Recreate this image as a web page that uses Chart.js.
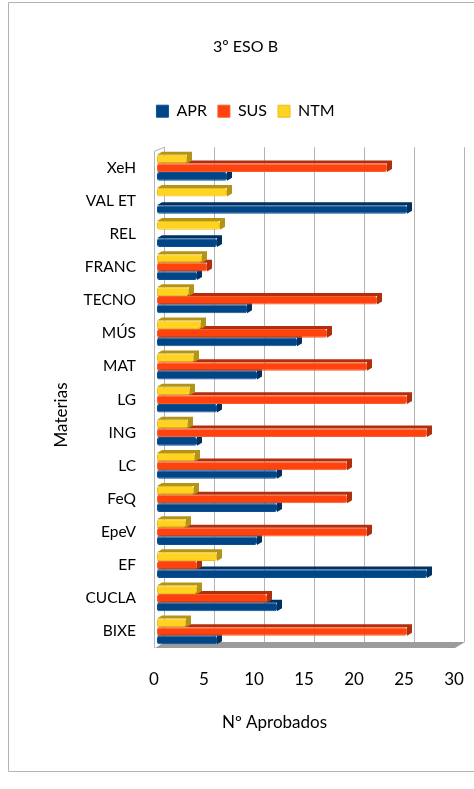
<!DOCTYPE html>
<html>
<head>
<meta charset="utf-8">
<title>3º ESO B</title>
<script src="https://cdn.jsdelivr.net/npm/chart.js@4"></script>
<style>
  html, body { margin: 0; padding: 0; background: #fff; }
  #wrap { width: 474px; height: 789px; position: relative; }
</style>
</head>
<body>
<div id="wrap"><canvas id="myChart" width="474" height="789"></canvas></div>
<script>
var materias = ['XeH', 'VAL ET', 'REL', 'FRANC', 'TECNO', 'MÚS', 'MAT', 'LG', 'ING', 'LC', 'FeQ', 'EpeV', 'EF', 'CUCLA', 'BIXE'];
var apr = [7, 25, 6, 4, 9, 14, 10, 6, 4, 12, 12, 10, 27, 12, 6];
var sus = [23, 0, 0, 5, 22, 17, 21, 25, 27, 19, 19, 21, 4, 11, 25];
var ntm = [3, 7, 6.3, 4.5, 3.2, 4.4, 3.7, 3.3, 3.1, 3.8, 3.7, 2.9, 6, 4, 2.9];
var xTicks = [0, 5, 10, 15, 20, 25, 30];
var fontName = 'Lato, Carlito, sans-serif';

// depth of the fake 3d, the way the spreadsheet drew it
var dx = 10, dy = 6;
var barDx = 5, barDy = 3;
var wallInset = 2;

var wall3d = {
    id: 'wall3d',
    beforeLayout: function (chart) {
        // some air between the legend and the plot
        var legend = chart.legend;
        if (legend.spaced) return;
        legend.spaced = true;
        var fit = legend.fit;
        legend.fit = function () {
            fit.call(this);
            this.height += 22;
        };
    },
    afterLayout: function (chart) {
        // the label overhang eats into the plot, so pin the value axis
        var x = chart.scales.x;
        x.left = 157;
        x.right = 457;
        x.width = 300;
        x.configure();
    },
    beforeDraw: function (chart) {
        var c = chart.ctx;
        c.save();
        c.fillStyle = '#fff';
        c.fillRect(0, 0, chart.width, chart.height);
        c.strokeStyle = '#b3b3b3';
        c.lineWidth = 1;
        c.beginPath();
        c.moveTo(chart.width, 2.5);
        c.lineTo(8.5, 2.5);
        c.lineTo(8.5, 771.5);
        c.lineTo(chart.width, 771.5);
        c.stroke();
        c.restore();
    },
    beforeDatasetsDraw: function (chart) {
        var c = chart.ctx, x = chart.scales.x, a = chart.chartArea;
        var x0 = x.getPixelForValue(0) - wallInset;
        var x1 = x.getPixelForValue(30) - wallInset;
        c.save();
        // floor
        c.fillStyle = '#9c9c9c';
        c.beginPath();
        c.moveTo(x0, a.bottom);
        c.lineTo(x1, a.bottom);
        c.lineTo(x1 + dx, a.bottom - dy);
        c.lineTo(x0 + dx, a.bottom - dy);
        c.closePath();
        c.fill();
        // back wall lines
        c.strokeStyle = '#b3b3b3';
        c.lineWidth = 1;
        xTicks.forEach(function (t) {
            var px = Math.round(x.getPixelForValue(t) - wallInset) - 0.5;
            c.beginPath();
            c.moveTo(px + dx, a.top - 4);
            c.lineTo(px + dx, a.bottom - dy);
            c.stroke();
        });
        // left wall
        c.beginPath();
        c.moveTo(x0 + dx - 0.5, a.top - 4);
        c.lineTo(x0 - 0.5, a.top);
        c.lineTo(x0 - 0.5, a.bottom);
        c.stroke();
        c.restore();
    },
    beforeDatasetDraw: function (chart, args) {
        var c = chart.ctx;
        var ds = chart.data.datasets[args.index];
        args.meta.data.forEach(function (bar, i) {
            if (!ds.data[i]) return;
            var top = bar.y - bar.height / 2;
            var bottom = bar.y + bar.height / 2;
            c.save();
            c.fillStyle = ds.sideColor;
            c.beginPath();
            c.moveTo(bar.base, top);
            c.lineTo(bar.base + barDx, top - barDy);
            c.lineTo(bar.x + barDx, top - barDy);
            c.lineTo(bar.x + barDx, bottom - barDy);
            c.lineTo(bar.x, bottom);
            c.lineTo(bar.x, top);
            c.closePath();
            c.fill();
            c.restore();
        });
    },
    afterDraw: function (chart) {
        var c = chart.ctx;
        c.save();
        c.fillStyle = '#000';
        c.font = '17px ' + fontName;
        c.textAlign = 'center';
        c.textBaseline = 'middle';
        c.fillText(chart.options.scales.x.title.text, 274.5, 723);
        c.translate(62, 415);
        c.rotate(-Math.PI / 2);
        c.fillText(chart.options.scales.y.title.text, 0, 0);
        c.restore();
    }
};

var ctx = document.getElementById('myChart').getContext('2d');

var myChart = new Chart(ctx, {
    type: 'bar',
    data: {
        labels: materias,
        datasets: [{
            label: 'APR',
            data: apr,
            order: 3,
            backgroundColor: '#004586',
            borderColor: '#0a5296',
            sideColor: '#003160',
            borderWidth: 1,
            borderRadius: 2,
            borderSkipped: false
        }, {
            label: 'SUS',
            data: sus,
            order: 2,
            backgroundColor: '#ff420e',
            borderColor: '#f0622f',
            sideColor: '#b32e0a',
            borderWidth: 1,
            borderRadius: 2,
            borderSkipped: false
        }, {
            label: 'NTM',
            data: ntm,
            order: 1,
            backgroundColor: '#ffd320',
            borderColor: '#e6c020',
            sideColor: '#b39416',
            borderWidth: 1,
            borderRadius: 2,
            borderSkipped: false
        }]
    },
    options: {
        indexAxis: 'y',
        responsive: false,
        animation: false,
        layout: { padding: { left: 27, right: 10, top: 0, bottom: 0 } },
        categoryPercentage: 0.78,
        barPercentage: 1,
        plugins: {
            title: {
                display: true,
                text: '3º ESO B',
                color: '#000',
                font: { family: fontName, size: 16, weight: 'normal' },
                padding: { top: 37, bottom: 36 }
            },
            legend: {
                position: 'top',
                labels: {
                    color: '#000',
                    font: { family: fontName, size: 16 },
                    boxWidth: 12,
                    boxHeight: 12,
                    padding: 11,
                    sort: function (a, b) { return a.datasetIndex - b.datasetIndex; }
                }
            },
            tooltip: { enabled: false }
        },
        scales: {
            x: {
                min: 0,
                max: 30,
                afterFit: function (s) { s.height = 141; },
                afterBuildTicks: function (s) { s.ticks = xTicks.map(function (v) { return { value: v }; }); },
                grid: { display: false },
                border: { display: false },
                title: { display: false, text: 'Nº Aprobados' },
                ticks: { color: '#000', font: { family: fontName, size: 17 }, padding: 13.5, maxRotation: 0, labelOffset: -3 }
            },
            y: {
                afterFit: function (s) { s.width = 130; },
                grid: { display: false },
                border: { display: false },
                title: { display: false, text: 'Materias' },
                ticks: { color: '#000', font: { family: fontName, size: 15.5 }, padding: 13, autoSkip: false }
            }
        }
    },
    plugins: [wall3d]
});
</script>
</body>
</html>
